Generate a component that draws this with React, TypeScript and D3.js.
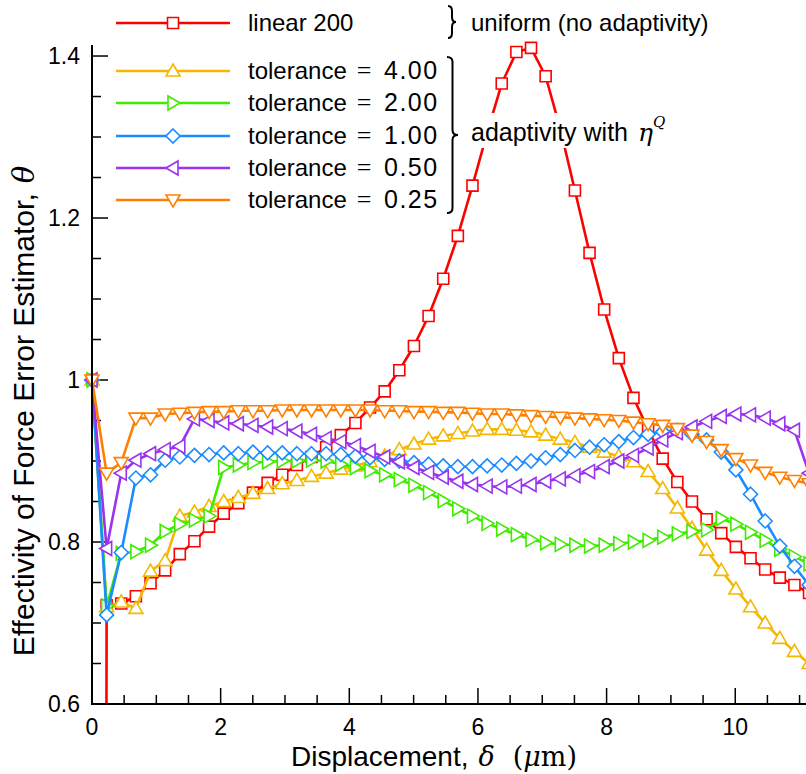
import React from 'react';
import * as d3 from 'd3';

// displacement grid (µm)
const DELTA = [0, 0.2275, 0.455, 0.6825, 0.91, 1.1375, 1.365, 1.5925, 1.82, 2.0475, 2.275, 2.5025, 2.73, 2.9575, 3.185, 3.4125, 3.64, 3.8675, 4.095, 4.3225, 4.55, 4.7775, 5.005, 5.2325, 5.46, 5.6875, 5.915, 6.1425, 6.37, 6.5975, 6.825, 7.0525, 7.28, 7.5075, 7.735, 7.9625, 8.19, 8.4175, 8.645, 8.8725, 9.1, 9.3275, 9.555, 9.7825, 10.01, 10.2375, 10.465, 10.6925, 10.92, 11.1475];

const LINEAR_200 = [-10, 0.722, 0.724, 0.733, 0.749, 0.765, 0.785, 0.801, 0.819, 0.835, 0.848, 0.861, 0.873, 0.883, 0.895, 0.905, 0.917, 0.932, 0.947, 0.966, 0.986, 1.012, 1.042, 1.079, 1.125, 1.178, 1.24, 1.305, 1.366, 1.405, 1.41, 1.375, 1.31, 1.234, 1.157, 1.087, 1.027, 0.978, 0.939, 0.903, 0.874, 0.85, 0.828, 0.811, 0.794, 0.78, 0.766, 0.756, 0.747, 0.737];
const TOL_400 = [1.0, 0.72, 0.726, 0.718, 0.764, 0.777, 0.832, 0.837, 0.844, 0.85, 0.855, 0.86, 0.866, 0.872, 0.876, 0.881, 0.885, 0.89, 0.894, 0.899, 0.906, 0.914, 0.921, 0.927, 0.931, 0.934, 0.937, 0.939, 0.939, 0.938, 0.936, 0.932, 0.927, 0.923, 0.917, 0.911, 0.906, 0.899, 0.887, 0.866, 0.842, 0.817, 0.79, 0.765, 0.742, 0.72, 0.7, 0.681, 0.665, 0.65];
const TOL_200 = [1.0, 0.721, 0.786, 0.788, 0.796, 0.813, 0.822, 0.827, 0.832, 0.892, 0.895, 0.898, 0.899, 0.9, 0.9, 0.901, 0.9, 0.896, 0.892, 0.888, 0.883, 0.877, 0.87, 0.861, 0.851, 0.841, 0.832, 0.823, 0.816, 0.809, 0.803, 0.799, 0.797, 0.796, 0.795, 0.796, 0.798, 0.8, 0.802, 0.806, 0.81, 0.813, 0.815, 0.829, 0.822, 0.812, 0.802, 0.791, 0.782, 0.773];
const TOL_100 = [1.0, 0.71, 0.787, 0.879, 0.883, 0.901, 0.905, 0.907, 0.908, 0.91, 0.909, 0.911, 0.91, 0.91, 0.909, 0.909, 0.909, 0.908, 0.906, 0.904, 0.902, 0.9, 0.898, 0.896, 0.894, 0.893, 0.893, 0.894, 0.895, 0.897, 0.9, 0.904, 0.908, 0.913, 0.917, 0.92, 0.924, 0.929, 0.933, 0.936, 0.938, 0.933, 0.926, 0.911, 0.889, 0.859, 0.826, 0.795, 0.77, 0.747];
const TOL_050 = [1.0, 0.792, 0.885, 0.901, 0.909, 0.914, 0.918, 0.952, 0.95, 0.947, 0.946, 0.944, 0.942, 0.94, 0.937, 0.933, 0.928, 0.924, 0.919, 0.912, 0.905, 0.899, 0.892, 0.886, 0.88, 0.875, 0.871, 0.869, 0.868, 0.869, 0.871, 0.875, 0.878, 0.882, 0.887, 0.893, 0.9, 0.907, 0.916, 0.926, 0.935, 0.942, 0.949, 0.955, 0.958, 0.957, 0.953, 0.946, 0.938, 0.885];
const TOL_025 = [1.0, 0.885, 0.898, 0.953, 0.953, 0.958, 0.959, 0.96, 0.961, 0.961, 0.962, 0.962, 0.962, 0.963, 0.963, 0.963, 0.963, 0.963, 0.963, 0.963, 0.962, 0.962, 0.961, 0.961, 0.96, 0.96, 0.959, 0.958, 0.958, 0.957, 0.956, 0.955, 0.954, 0.953, 0.952, 0.951, 0.95, 0.948, 0.946, 0.944, 0.94, 0.932, 0.924, 0.914, 0.903, 0.895, 0.886, 0.88, 0.876, 0.872];

const X_TICKS = [0, 2, 4, 6, 8, 10];
const X_TICK_LABELS = ['0', '2', '4', '6', '8', '10'];
const Y_TICKS = [0.6, 0.8, 1.0, 1.2, 1.4];
const Y_TICK_LABELS = ['0.6', '0.8', '1', '1.2', '1.4'];
const TOL_LABELS = ['4.00', '2.00', '1.00', '0.50', '0.25'];

type Marker = 'square' | 'up' | 'right' | 'diamond' | 'left' | 'down';

const SERIES: { values: number[]; color: string; marker: Marker }[] = [
  { values: LINEAR_200, color: '#ff0000', marker: 'square' },
  { values: TOL_400, color: '#f4b800', marker: 'up' },
  { values: TOL_200, color: '#3fec00', marker: 'right' },
  { values: TOL_100, color: '#1a8cff', marker: 'diamond' },
  { values: TOL_050, color: '#9933ee', marker: 'left' },
  { values: TOL_025, color: '#ff8000', marker: 'down' },
];

const markerPath = (m: Marker): string => {
  switch (m) {
    case 'square': return 'M-5.5,-5.5H5.5V5.5H-5.5Z';
    case 'up': return 'M0,-7L7,5L-7,5Z';
    case 'down': return 'M0,7L7,-5L-7,-5Z';
    case 'right': return 'M7,0L-5,-7L-5,7Z';
    case 'left': return 'M-7,0L5,-7L5,7Z';
    case 'diamond': return 'M0,-7L7,0L0,7L-7,0Z';
  }
};

const bracePath = (x0: number, x1: number, y0: number, y1: number, ym: number): string => {
  const xm = (x0 + x1) / 2;
  const r = 5;
  return `M${x0},${y0} Q${xm},${y0} ${xm},${y0 + r} L${xm},${ym - r} Q${xm},${ym} ${x1},${ym} Q${xm},${ym} ${xm},${ym + r} L${xm},${y1 - r} Q${xm},${y1} ${x0},${y1}`;
};

const SANS = '"Liberation Sans", Arial, Helvetica, sans-serif';
const SERIF = '"DejaVu Serif", "Liberation Serif", serif';

export default function App() {
  const W = 806, H = 774;
  const x = d3.scaleLinear().domain([0, 11.1]).range([92, 806]);
  const y = d3.scaleLinear().domain([0.6, 1.4136]).range([704, 45]);
  const line = d3.line<number>().x((_, i) => x(DELTA[i])).y((d) => y(d));
  const xMinor = d3.range(0, 11.1, 0.5);
  const yMinor = d3.range(0.6, 1.41, 0.05);
  const x0 = x(0), yb = y(0.6);

  const legendRows = [23, 71, 103, 136, 168, 200];

  return (
    <svg width={W} height={H} style={{ position: 'absolute', left: 0, top: 0, background: '#fff' }}>
      <defs>
        <clipPath id="plotclip">
          <rect x={0} y={0} width={W} height={yb} />
        </clipPath>
      </defs>
      <rect width={W} height={H} fill="#fff" />
      {/* ticks */}
      {xMinor.map((v, i) => {
        const major = Math.abs(v / 2 - Math.round(v / 2)) < 1e-6;
        return <line key={'xt' + i} x1={x(v)} x2={x(v)} y1={yb} y2={yb - (major ? 16 : 9)} stroke="#000" strokeWidth={1.5} />;
      })}
      {yMinor.map((v, i) => {
        const major = Math.abs(v / 0.2 - Math.round(v / 0.2)) < 1e-6;
        return <line key={'yt' + i} x1={x0} x2={x0 + (major ? 16 : 9)} y1={y(v)} y2={y(v)} stroke="#000" strokeWidth={1.5} />;
      })}
      {/* series */}
      <g clipPath="url(#plotclip)">
        {SERIES.map((s, si) => (
          <g key={'s' + si}>
            <path d={line(s.values) || ''} fill="none" stroke={s.color} strokeWidth={2.6} strokeLinejoin="round" />
            {s.values.map((v, i) => (
              <path key={i} d={markerPath(s.marker)} transform={`translate(${x(DELTA[i])},${y(v)})`} fill="#fff" stroke={s.color} strokeWidth={1.6} />
            ))}
          </g>
        ))}
      </g>
      {/* axes */}
      <line x1={x0} x2={x0} y1={45} y2={yb + 1} stroke="#000" strokeWidth={2} />
      <line x1={x0 - 1} x2={W} y1={yb} y2={yb} stroke="#000" strokeWidth={2} />
      {Y_TICKS.map((v, i) => (
        <text key={'yl' + i} x={80} y={y(v) + 8} textAnchor="end" fontFamily={SANS} fontSize={23} fill="#000">{Y_TICK_LABELS[i]}</text>
      ))}
      {X_TICKS.map((v, i) => (
        <text key={'xl' + i} x={x(v)} y={735} textAnchor="middle" fontFamily={SANS} fontSize={23} fill="#000">{X_TICK_LABELS[i]}</text>
      ))}
      {/* axis titles */}
      <text transform="translate(34,411) rotate(-90)" textAnchor="middle" fontFamily={SANS} fontSize={30} fill="#000">
        Effectivity of Force Error Estimator,<tspan dx={10} fontFamily={SERIF} fontStyle="italic" fontSize={29}>θ</tspan>
      </text>
      <text x={434} y={766} textAnchor="middle" fontFamily={SANS} fontSize={28} fill="#000">
        Displacement,<tspan dx={10} fontFamily={SERIF} fontStyle="italic" fontSize={27}>δ</tspan>
        <tspan dx={18} fontFamily={SERIF} fontSize={27}>(</tspan><tspan fontFamily={SERIF} fontStyle="italic" fontSize={27}>μ</tspan><tspan fontFamily={SERIF} fontSize={27}>m)</tspan>
      </text>
      {/* legend */}
      {SERIES.map((s, si) => (
        <g key={'lg' + si}>
          <line x1={116} x2={230} y1={legendRows[si]} y2={legendRows[si]} stroke={s.color} strokeWidth={2.6} />
          <path d={markerPath(s.marker)} transform={`translate(173,${legendRows[si]})`} fill="#fff" stroke={s.color} strokeWidth={1.6} />
        </g>
      ))}
      <text x={248} y={legendRows[0] + 8} fontFamily={SANS} fontSize={24} fill="#000">linear 200</text>
      {TOL_LABELS.map((t, i) => (
        <g key={'tl' + i}>
          <text x={248} y={legendRows[i + 1] + 8} fontFamily={SANS} fontSize={24} fill="#000">tolerance</text>
          <text x={364} y={legendRows[i + 1] + 8} textAnchor="middle" fontFamily={'"Liberation Serif", serif'} fontSize={26} fill="#000">=</text>
          <text x={384} y={legendRows[i + 1] + 8} fontFamily={SANS} fontSize={25} letterSpacing={1.5} fill="#000">{t}</text>
        </g>
      ))}
      <path d={bracePath(448, 456, 6, 38, 22)} fill="none" stroke="#000" strokeWidth={2} />
      <path d={bracePath(447, 458, 57, 213, 135)} fill="none" stroke="#000" strokeWidth={2} />
      <text x={471} y={31} fontFamily={SANS} fontSize={24} fill="#000">uniform (no adaptivity)</text>
      <rect x={468} y={113} width={212} height={35} fill="#fff" />
      <text x={471} y={141} fontFamily={SANS} fontSize={25} fill="#000">
        adaptivity with<tspan dx={10} fontFamily={SERIF} fontStyle="italic" fontSize={25}>η</tspan>
        <tspan fontFamily={SERIF} fontStyle="italic" fontSize={15} dy={-14}>Q</tspan>
      </text>
    </svg>
  );
}
